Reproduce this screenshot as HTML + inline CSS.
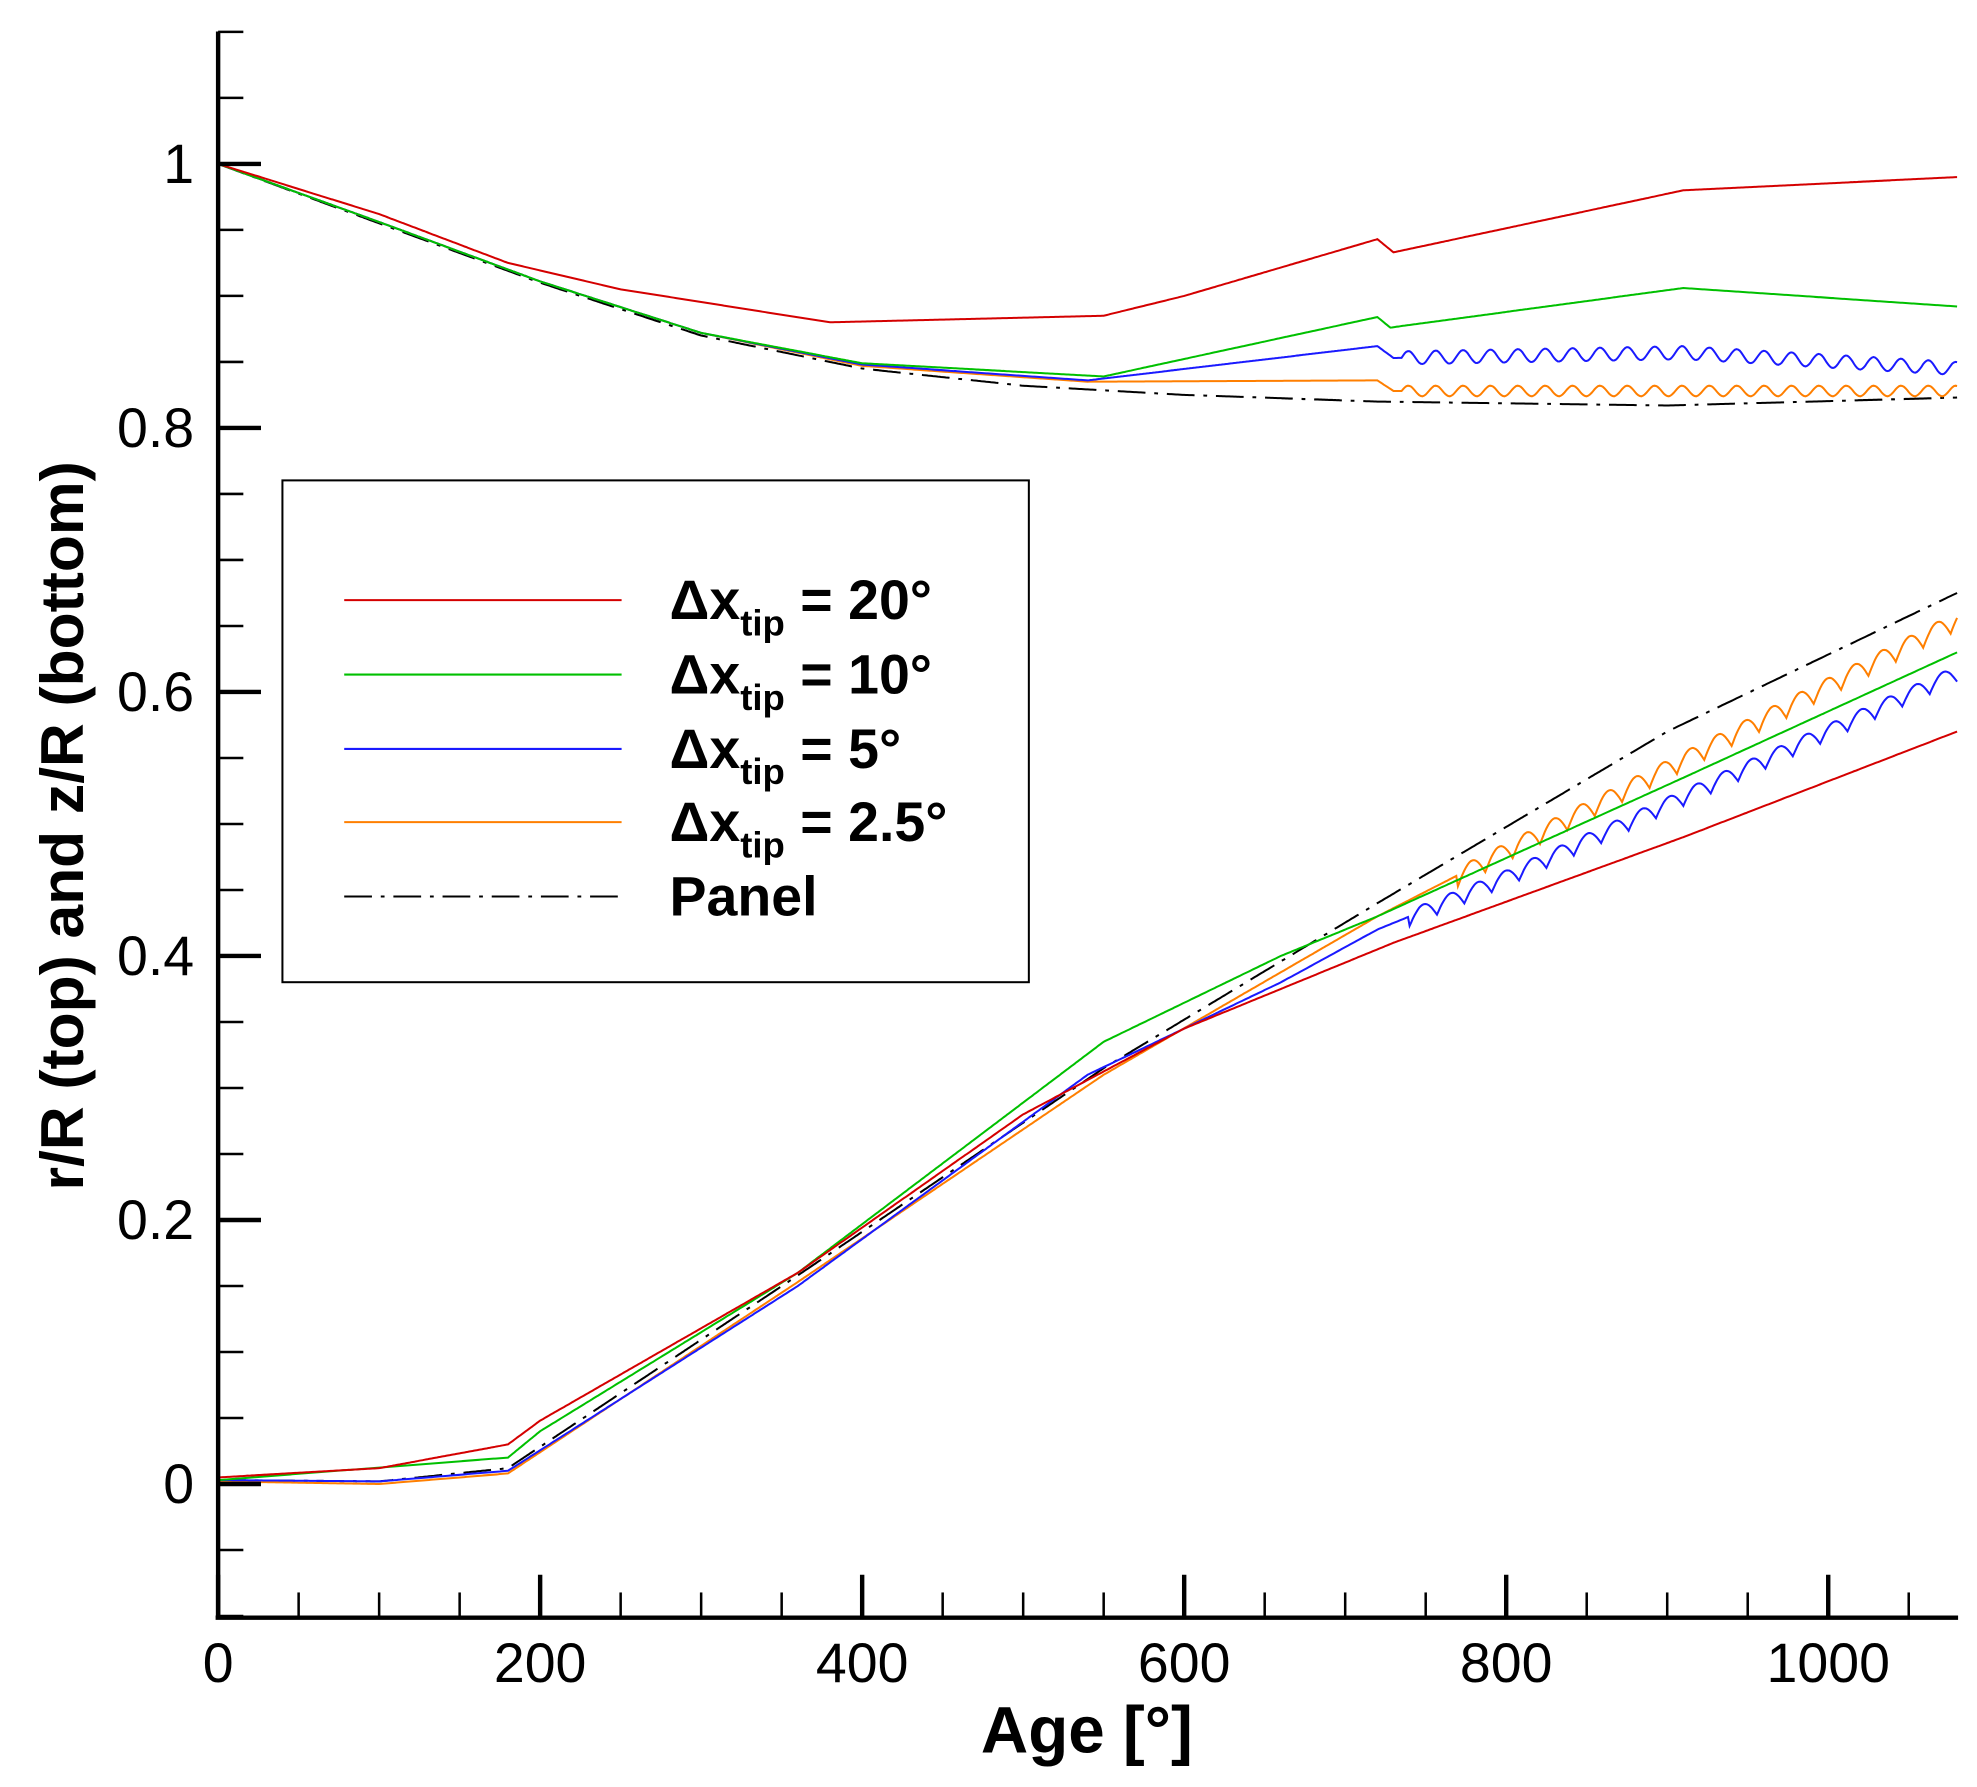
<!DOCTYPE html>
<html><head><meta charset="utf-8"><style>html,body{margin:0;padding:0;background:#fff}svg{display:block}</style></head>
<body>
<svg id="s" width="1977" height="1787" viewBox="0 0 1568 1417.3" xmlns="http://www.w3.org/2000/svg" font-family="Liberation Sans, Arial, sans-serif">
<g id="curves" fill="none" stroke-width="1.6"></g>
<g id="axes" stroke="#000"></g>
<rect x="224" y="381" width="592" height="398" fill="#fff" stroke="#000" stroke-width="1.6"/>
<g stroke-width="1.6">
<line x1="273" y1="476" x2="493" y2="476" stroke="#d40000"/>
<line x1="273" y1="535" x2="493" y2="535" stroke="#00c000"/>
<line x1="273" y1="594" x2="493" y2="594" stroke="#1a1aff"/>
<line x1="273" y1="652" x2="493" y2="652" stroke="#ff7f00"/>
<line x1="273" y1="711" x2="493" y2="711" stroke="#000" stroke-dasharray="22,7,3,7"/>
</g>
<g font-weight="bold" font-size="44">
<text x="531" y="491">Δx<tspan font-size="29" dy="13">tip</tspan><tspan dy="-13"> = 20°</tspan></text>
<text x="531" y="550">Δx<tspan font-size="29" dy="13">tip</tspan><tspan dy="-13"> = 10°</tspan></text>
<text x="531" y="609">Δx<tspan font-size="29" dy="13">tip</tspan><tspan dy="-13"> = 5°</tspan></text>
<text x="531" y="667">Δx<tspan font-size="29" dy="13">tip</tspan><tspan dy="-13"> = 2.5°</tspan></text>
<text x="531" y="726">Panel</text>
</g>
<text x="862" y="1390" font-size="52" font-weight="bold" text-anchor="middle">Age [°]</text>
<text transform="translate(66,655) rotate(-90)" font-size="48" font-weight="bold" text-anchor="middle">r/R (top) and z/R (bottom)</text>
<g id="labels" font-size="44"></g>
</svg>
<script>
const X=a=>173+a*1.277, Y=v=>1177-v*1047;
const ns="http://www.w3.org/2000/svg";
function el(p,t,a){const e=document.createElementNS(ns,t);for(const k in a)e.setAttribute(k,a[k]);p.appendChild(e);return e;}
function interp(pts,a){for(let i=0;i<pts.length-1;i++){if(a<=pts[i+1][0]){const t=(a-pts[i][0])/(pts[i+1][0]-pts[i][0]);return pts[i][1]+t*(pts[i+1][1]-pts[i][1]);}}return pts[pts.length-1][1];}
function curve(pts,col,osc,dash){let d="";for(let a=0;a<=1080;a+=1){let v=interp(pts,a);if(osc&&a>=osc.s){const ph=((a-osc.s)%osc.p)/osc.p;v+=osc.amp*(osc.saw?(Math.abs(Math.sin(ph*Math.PI))-0.6)*2:Math.sin(ph*2*Math.PI));}d+=(d?"L":"M")+X(a).toFixed(1)+","+Y(v).toFixed(1);}
const o={d:d,stroke:col};if(dash)o["stroke-dasharray"]=dash;el(document.getElementById("curves"),"path",o);}
// top
curve([[0,1],[100,0.955],[200,0.91],[300,0.87],[400,0.845],[500,0.832],[600,0.825],[720,0.82],[900,0.817],[1080,0.823]],"#000",null,"22,7,3,7");
curve([[0,1],[100,0.956],[200,0.911],[300,0.872],[400,0.847],[540,0.835],[720,0.836],[730,0.828],[1080,0.828]],"#ff7f00",{s:735,p:17,amp:0.004});
curve([[0,1],[100,0.956],[200,0.911],[300,0.872],[400,0.848],[540,0.836],[720,0.862],[730,0.853],[910,0.857],[1080,0.845]],"#1a1aff",{s:735,p:17,amp:0.005});
curve([[0,1],[100,0.956],[200,0.911],[300,0.872],[400,0.849],[550,0.839],[720,0.884],[728,0.876],[910,0.906],[1080,0.892]],"#00c000");
curve([[0,1],[100,0.962],[180,0.925],[250,0.905],[380,0.88],[550,0.885],[600,0.9],[720,0.943],[730,0.933],[910,0.98],[1080,0.99]],"#d40000");
// bottom
curve([[0,0.003],[100,0.002],[180,0.012],[360,0.158],[550,0.315],[720,0.44],[900,0.57],[1080,0.675]],"#000",null,"22,7,3,7");
curve([[0,0.002],[100,0],[180,0.008],[360,0.153],[550,0.31],[720,0.43],[800,0.48],[1080,0.655]],"#ff7f00",{s:770,p:17,amp:0.007,saw:true});
curve([[0,0.003],[100,0.002],[180,0.01],[360,0.15],[540,0.31],[660,0.38],[720,0.42],[800,0.46],[1080,0.615]],"#1a1aff",{s:740,p:17,amp:0.006,saw:true});
curve([[0,0.003],[180,0.02],[200,0.04],[360,0.16],[550,0.335],[660,0.4],[720,0.43],[910,0.535],[1080,0.63]],"#00c000");
curve([[0,0.005],[100,0.012],[180,0.03],[200,0.048],[360,0.16],[500,0.28],[600,0.345],[720,0.405],[730,0.41],[910,0.49],[1080,0.57]],"#d40000");
// axes
const ax=document.getElementById("axes"),lb=document.getElementById("labels");
el(ax,"line",{x1:173,y1:25,x2:173,y2:1283,"stroke-width":3.5});
el(ax,"line",{x1:171,y1:1283,x2:1553,y2:1283,"stroke-width":3.5});
for(let i=-2;i<=22;i++){const v=i*0.05,y=Y(v);if(y<24||y>1284)continue;const maj=i%4==0;el(ax,"line",{x1:173,y1:y,x2:maj?207:193,y2:y,"stroke-width":maj?3.5:2});
if(maj){const t=el(lb,"text",{x:154,y:y+15,"text-anchor":"end"});t.textContent=(Math.round(v*10)/10).toString();}}
for(let a=0;a<=1080;a+=50){const x=X(a),maj=a%200==0;el(ax,"line",{x1:x,y1:1283,x2:x,y2:maj?1249:1263,"stroke-width":maj?3.5:2});
if(maj){const t=el(lb,"text",{x:x,y:1334,"text-anchor":"middle"});t.textContent=a;}}
</script>
</body></html>
